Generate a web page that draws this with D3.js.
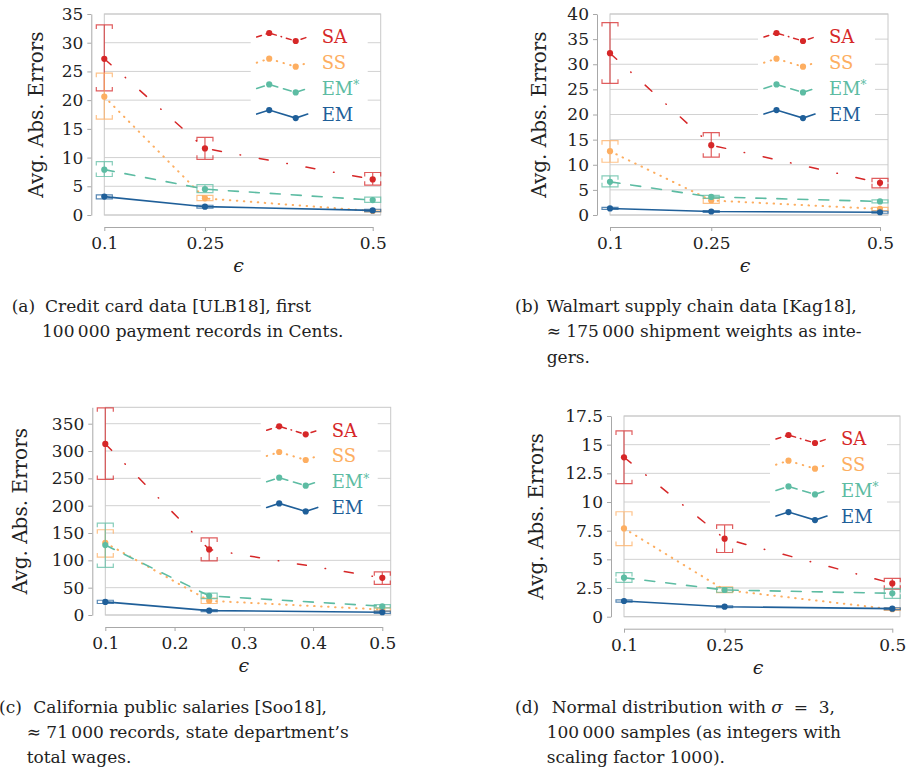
<!DOCTYPE html>
<html>
<head>
<meta charset="utf-8">
<script src="https://cdn.jsdelivr.net/npm/d3@7"></script>
<style>
  body { margin: 0; background: #fff; }
  text { font-family: "DejaVu Serif", serif; fill: #222; }
</style>
</head>
<body>
<svg id="fig" width="908" height="771"></svg>
<script>
// x values (privacy parameter epsilon)
var eps = [0.1, 0.25, 0.5];
var names = ["SA", "SS", "EM*", "EM"];
var colors = ["#d62728", "#fdae61", "#5dbca3", "#1f5f99"];

// (a) credit card data -- rows: SA, SS, EM*, EM
var creditMean = [[27.2, 11.6, 6.2], [20.6, 2.9, 0.7], [7.9, 4.5, 2.6], [3.2, 1.45, 0.8]];
var creditLow  = [[21.6, 9.7, 5.2], [16.7, 2.5, 0.55], [6.7, 3.9, 2.2], [2.8, 1.2, 0.6]];
var creditHigh = [[33.1, 13.5, 7.4], [24.7, 3.4, 0.85], [9.3, 5.3, 3.1], [3.5, 1.7, 1.0]];

// (b) walmart supply chain data
var walmartMean = [[32.2, 13.9, 6.4], [12.7, 2.9, 1.2], [6.6, 3.6, 2.7], [1.3, 0.7, 0.55]];
var walmartLow  = [[26.2, 11.5, 5.4], [10.5, 2.3, 0.9], [5.6, 3.3, 2.4], [1.1, 0.5, 0.35]];
var walmartHigh = [[38.3, 16.4, 7.3], [14.8, 3.3, 1.5], [7.8, 3.9, 3.0], [1.5, 0.9, 0.75]];

// (c) california public salaries
var salaryMean = [[313, 120, 68], [132, 26, 10], [128, 35, 16], [24, 8, 5]];
var salaryLow  = [[248, 99, 56], [106, 21, 7], [87, 30, 13], [21, 6, 3]];
var salaryHigh = [[379, 141, 79], [156, 31, 13], [168, 40, 19], [27, 10, 7]];

// (d) normal distribution
var normalMean = [[13.9, 6.8, 2.9], [7.7, 2.33, 0.65], [3.4, 2.33, 2.04], [1.37, 0.87, 0.7]];
var normalLow  = [[11.6, 5.6, 2.4], [6.2, 2.1, 0.55], [3.0, 2.13, 1.6], [1.27, 0.8, 0.62]];
var normalHigh = [[16.2, 8.0, 3.35], [9.15, 2.6, 0.75], [3.85, 2.53, 2.45], [1.47, 0.94, 0.78]];

var xTicksCoarse = [0.1, 0.25, 0.5];
var xTicksFine = [0.1, 0.2, 0.3, 0.4, 0.5];
var yTicksA = [0, 5, 10, 15, 20, 25, 30, 35];
var yTicksB = [0, 5, 10, 15, 20, 25, 30, 35, 40];
var yTicksC = [0, 50, 100, 150, 200, 250, 300, 350];
var yTicksD = [0, 2.5, 5, 7.5, 10, 12.5, 15, 17.5];

// line styles per series
var dashes = ["9,19,0.5,19", "0.5,6.5", "10,11", null];
var widths = [1.5, 2, 1.6, 1.6];

var svg = d3.select("#fig");
var fmt = function (d) { return String(d); };

function drawPanel(p, mean, low, high) {
  var g = svg.append("g");
  var x = d3.scaleLinear().domain([0.1, 0.5]).range([p.xL, p.xR]);
  var y = d3.scaleLinear().domain([0, p.ymax]).range([p.yB, p.yT]);

  // grid lines
  g.selectAll(".grid")
    .data(p.yTicks)
    .enter().append("line")
    .attr("x1", p.xL).attr("x2", p.frameR)
    .attr("y1", function (d) { return y(d); })
    .attr("y2", function (d) { return y(d); })
    .attr("stroke", "#d2d2d2");

  // frame
  g.append("rect")
    .attr("x", p.xL).attr("y", y(p.ymax))
    .attr("width", p.frameR - p.xL).attr("height", y(0) - y(p.ymax))
    .attr("fill", "none").attr("stroke", "#c8c8c8");

  // y axis (offset to the left)
  var ya = g.append("g")
    .attr("transform", "translate(" + (p.xL - 13) + ",0)")
    .call(d3.axisLeft(y).tickValues(p.yTicks).tickFormat(fmt).tickSize(4).tickSizeOuter(0).tickPadding(4));
  // x axis (offset below)
  var xa = g.append("g")
    .attr("transform", "translate(0," + (p.yB + 12) + ")")
    .call(d3.axisBottom(x).tickValues(p.xTicks).tickFormat(fmt).tickSize(4).tickSizeOuter(0).tickPadding(6));
  [ya, xa].forEach(function (a) {
    a.attr("font-family", null).attr("font-size", 17);
    a.select(".domain").attr("stroke", "#a8a8a8");
    a.selectAll(".tick line").attr("stroke", "#a8a8a8");
    a.selectAll(".tick text").attr("fill", "#222");
  });

  // axis titles
  g.append("text")
    .attr("transform", "translate(" + p.labelX + "," + ((y(0) + y(p.ymax)) / 2) + ") rotate(-90)")
    .attr("text-anchor", "middle").attr("dy", "0.32em")
    .attr("font-size", 20)
    .text("Avg. Abs. Errors");
  g.append("text")
    .attr("x", (p.xL + p.xR) / 2).attr("y", p.yB + 57)
    .attr("text-anchor", "middle").attr("font-size", 19).attr("font-style", "italic")
    .text("\u03f5");

  var line = d3.line()
    .x(function (d, i) { return x(eps[i]); })
    .y(function (d) { return y(d); });

  mean.forEach(function (vals, s) {
    var c = colors[s];
    // error bars with bracket caps
    eps.forEach(function (e, i) {
      var cx = x(e), yh = y(high[s][i]), yl = y(low[s][i]);
      var k = Math.min(4, (yl - yh) / 2);
      g.append("path")
        .attr("d", "M" + cx + "," + yh + "V" + yl +
          "M" + (cx - 8) + "," + (yh + k) + "V" + yh + "H" + (cx + 8) + "V" + (yh + k) +
          "M" + (cx - 8) + "," + (yl - k) + "V" + yl + "H" + (cx + 8) + "V" + (yl - k))
        .attr("fill", "none").attr("stroke", c).attr("stroke-width", 1.2).attr("opacity", 0.75);
    });
    g.append("path")
      .datum(vals)
      .attr("d", line)
      .attr("fill", "none").attr("stroke", c)
      .attr("stroke-width", widths[s])
      .attr("stroke-linecap", "round")
      .attr("stroke-dasharray", dashes[s]);
    g.selectAll(".pt" + s)
      .data(vals)
      .enter().append("circle")
      .attr("cx", function (d, i) { return x(eps[i]); })
      .attr("cy", function (d) { return y(d); })
      .attr("r", 3.1)
      .attr("fill", c);
  });

  // legend
  var lx = p.frameR - 124, ly = p.yT + 23;
  g.append("rect")
    .attr("x", lx - 6).attr("y", p.yT + 8)
    .attr("width", p.frameR - 13 - (lx - 6)).attr("height", 106)
    .attr("fill", "#fff");
  names.forEach(function (n, s) {
    var yy = ly + s * 25.7;
    var pts = [[lx, yy], [lx + 12.5, yy - 4], [lx + 39, yy + 4], [lx + 51, yy]];
    g.append("path")
      .attr("d", d3.line()(pts))
      .attr("fill", "none").attr("stroke", colors[s])
      .attr("stroke-width", widths[s])
      .attr("stroke-linecap", "round")
      .attr("stroke-dasharray", s === 0 ? "5,5,0.5,5" : (s === 2 ? "8,6" : dashes[s]));
    [1, 2].forEach(function (j) {
      g.append("circle").attr("cx", pts[j][0]).attr("cy", pts[j][1]).attr("r", 3.1).attr("fill", colors[s]);
    });
    var t = g.append("text")
      .attr("x", lx + 65).attr("y", yy).attr("dy", "0.36em")
      .attr("font-size", 18)
      .style("fill", colors[s]);
    if (n === "EM*") {
      t.text("EM");
      t.append("tspan").attr("dy", "-0.45em").attr("font-size", 12).text("*");
    } else {
      t.text(n);
    }
  });
}

drawPanel({ xL: 104.3, xR: 372.7, frameR: 380.7, yB: 215, yT: 14, ymax: 35,
  yTicks: yTicksA, xTicks: xTicksCoarse, labelX: 37 }, creditMean, creditLow, creditHigh);
drawPanel({ xL: 610, xR: 880, frameR: 888, yB: 215, yT: 14, ymax: 40,
  yTicks: yTicksB, xTicks: xTicksCoarse, labelX: 540 }, walmartMean, walmartLow, walmartHigh);
drawPanel({ xL: 105.3, xR: 382.3, frameR: 390.7, yB: 615, yT: 407.3, ymax: 380,
  yTicks: yTicksC, xTicks: xTicksFine, labelX: 21 }, salaryMean, salaryLow, salaryHigh);
drawPanel({ xL: 624, xR: 892.3, frameR: 900, yB: 616.7, yT: 416, ymax: 17.5,
  yTicks: yTicksD, xTicks: xTicksCoarse, labelX: 537 }, normalMean, normalLow, normalHigh);

// captions
var captions = [
  { tag: "(a)", tx: 11.7, lines: [[45, 311.7, "Credit card data [ULB18], first"], [42, 337.3, "100\u2009000 payment records in Cents."]] },
  { tag: "(b)", tx: 515, lines: [[546.7, 311.7, "Walmart supply chain data [Kag18],"], [546.7, 337.3, "\u2248 175\u2009000 shipment weights as inte-"], [546.7, 362.7, "gers."]] },
  { tag: "(c)", tx: -1, lines: [[33.3, 713.3, "California public salaries [Soo18],"], [26.7, 738.3, "\u2248 71\u2009000 records, state department\u2019s"], [26.7, 763.3, "total wages."]] },
  { tag: "(d)", tx: 515, lines: [[551.7, 713.3, null], [546.7, 738.3, "100\u2009000 samples (as integers with"], [546.7, 763.3, "scaling factor 1000)."]] }
];
captions.forEach(function (c) {
  svg.append("text").attr("x", c.tx).attr("y", c.lines[0][1]).attr("font-size", 17).text(c.tag);
  c.lines.forEach(function (l) {
    var t = svg.append("text").attr("x", l[0]).attr("y", l[1]).attr("font-size", 17);
    if (l[2] === null) {
      t.append("tspan").text("Normal distribution with ");
      t.append("tspan").attr("font-style", "italic").text("\u03c3");
      t.append("tspan").text(" \u00a0=\u00a0 3,");
    } else {
      t.text(l[2]);
    }
  });
});
</script>
</body>
</html>
